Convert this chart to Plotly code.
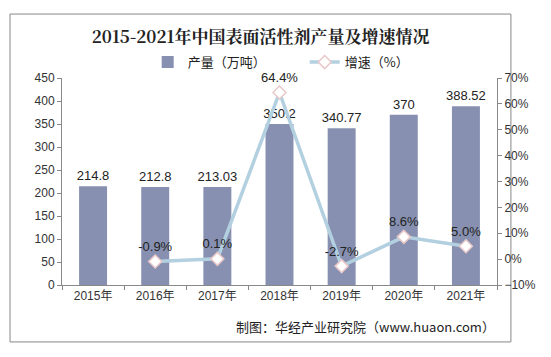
import plotly.graph_objects as go

years = ["2015年", "2016年", "2017年", "2018年", "2019年", "2020年", "2021年"]
output = [214.8, 212.8, 213.03, 350.2, 340.77, 370, 388.52]
output_labels = ["214.8", "212.8", "213.03", "350.2", "340.77", "370", "388.52"]
growth_years = ["2016年", "2017年", "2018年", "2019年", "2020年", "2021年"]
growth = [-0.9, 0.1, 64.4, -2.7, 8.6, 5.0]
growth_labels = ["-0.9%", "0.1%", "64.4%", "-2.7%", "8.6%", "5.0%"]

font_main = "Arial, Liberation Sans, Noto Sans CJK SC"

fig = go.Figure()
fig.add_trace(go.Bar(
    x=years, y=output, name="产量（万吨）",
    marker=dict(color="#8790b0", line=dict(width=0)),
    text=output_labels, textposition="outside", constraintext="none",
    textfont=dict(size=13, color="#222222"),
    cliponaxis=False,
))
fig.add_trace(go.Scatter(
    x=growth_years, y=growth, name="增速（%）", yaxis="y2",
    mode="lines+markers+text",
    line=dict(color="#b3d0e0", width=3.5),
    marker=dict(symbol="diamond", size=10, color="#ffffff",
                line=dict(color="#e8c8c8", width=1.5)),
    text=growth_labels, textposition="top center",
    textfont=dict(size=13, color="#222222"),
    cliponaxis=False,
))

fig.update_layout(
    width=551, height=357,
    margin=dict(l=62, r=54, t=78, b=72, autoexpand=False),
    paper_bgcolor="white", plot_bgcolor="white",
    font=dict(family=font_main, size=12, color="#333333"),
    title=dict(text="<b>2015-2021年中国表面活性剂产量及增速情况</b>",
               x=0.473, xanchor="center", y=0.895, yanchor="middle",
               font=dict(family="Noto Serif CJK SC, Noto Sans CJK SC, serif", size=17, color="#222222")),
    showlegend=True,
    legend=dict(orientation="h", xref="container", yref="container",
                x=0.553, xanchor="center", y=0.826, yanchor="middle",
                font=dict(size=13, color="#222222", family="Noto Sans CJK SC"),
                itemwidth=30, tracegroupgap=0, bgcolor="rgba(0,0,0,0)",
                entrywidth=112, entrywidthmode="pixels"),
    bargap=0.55,
    xaxis=dict(showline=True, linecolor="#888888", linewidth=1,
               ticks="outside", tickson="boundaries", ticklen=4, tickcolor="#888888",
               tickfont=dict(size=12, color="#333333")),
    yaxis=dict(range=[0, 450], dtick=50, showgrid=False, zeroline=False,
               showline=True, linecolor="#888888", linewidth=1,
               ticks="outside", ticklen=4, tickcolor="#888888",
               tickfont=dict(size=12, color="#333333")),
    yaxis2=dict(range=[-10, 70], dtick=10, overlaying="y", side="right",
                showgrid=False, zeroline=False, ticksuffix="%",
                showline=True, linecolor="#888888", linewidth=1,
                ticks="outside", ticklen=4, tickcolor="#888888",
                tickfont=dict(size=12, color="#333333")),
    shapes=[dict(type="rect", xref="paper", yref="paper",
                 x0=-0.1195, x1=1.032, y0=-0.275, y1=1.309,
                 line=dict(color="#888888", width=1), fillcolor="rgba(0,0,0,0)",
                 layer="below")],
    annotations=[dict(text="制图：华经产业研究院（www.huaon.com）", xref="paper", yref="paper",
                      x=1.0, y=-0.2, xanchor="right", yanchor="middle", showarrow=False,
                      font=dict(size=13, color="#222222", family="Noto Sans CJK SC"))],
)

fig.write_html("out.html", config={"displayModeBar": False},
               post_script="document.body.style.margin='0';")
